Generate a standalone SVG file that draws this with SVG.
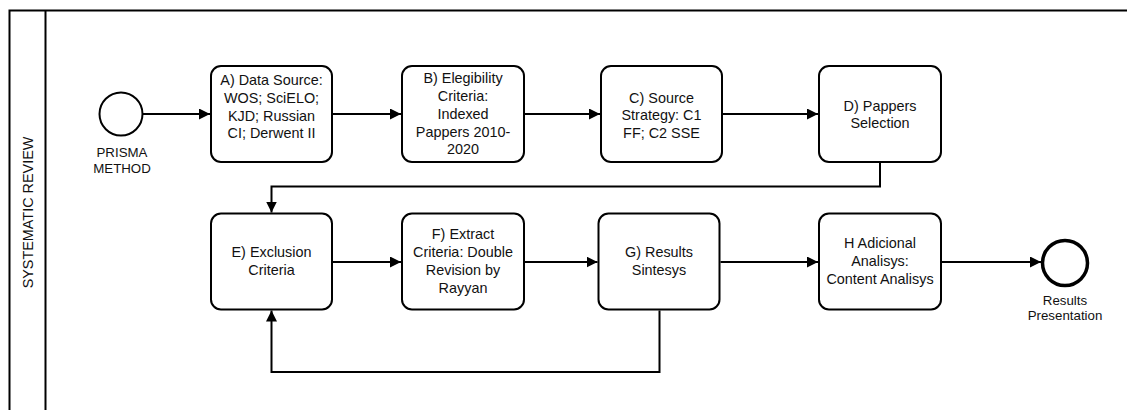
<svg xmlns="http://www.w3.org/2000/svg" width="1127" height="410" viewBox="0 0 1127 410">
  <defs>
    <style>
      .pool { fill: #ffffff; stroke: #000000; stroke-width: 2; }
      .task { fill: #ffffff; stroke: #000000; stroke-width: 2; }
      .t { font-family: "Liberation Sans", Arial, sans-serif; font-size: 14.4px; fill: #111111; text-anchor: middle; }
      .lbl { font-family: "Liberation Sans", Arial, sans-serif; font-size: 13.3px; fill: #111111; text-anchor: middle; }
      .conn { fill: none; stroke: #000000; stroke-width: 2; marker-end: url(#arrow); }
    </style>
    <marker id="arrow" markerUnits="userSpaceOnUse" markerWidth="11" markerHeight="11" refX="11" refY="5.5" orient="auto">
      <path d="M0,0 L11,5.5 L0,11 Z" fill="#000000"/>
    </marker>
  </defs>
  <rect width="1127" height="410" fill="#ffffff"/>

  <g id="pool">
    <rect class="pool" x="9.5" y="10.5" width="1130" height="420"/>
    <line x1="45.5" y1="10.5" x2="45.5" y2="412" stroke="#000000" stroke-width="2"/>
    <text class="t" transform="translate(33,212.5) rotate(-90)" x="0" y="0">SYSTEMATIC REVIEW</text>
  </g>

  <g id="connectors">
    <path class="conn" d="M143,114 L210,114"/>
    <path class="conn" d="M333,114 L401,114"/>
    <path class="conn" d="M525,114 L600,114"/>
    <path class="conn" d="M723,114 L818,114"/>
    <path class="conn" d="M880,163 L880,186.5 L271.5,186.5 L271.5,212.5"/>
    <path class="conn" d="M333,262 L401,262"/>
    <path class="conn" d="M525,262 L597.5,262"/>
    <path class="conn" d="M720.5,262 L818,262"/>
    <path class="conn" d="M942,262 L1041,262"/>
    <path class="conn" d="M659.5,310.5 L659.5,372 L271.5,372 L271.5,310.5"/>
  </g>

  <g id="start">
    <circle cx="121" cy="114" r="21.5" fill="#ffffff" stroke="#000000" stroke-width="2"/>
    <text class="lbl" x="122" y="156.5">PRISMA</text>
    <text class="lbl" x="122" y="173">METHOD</text>
  </g>

  <g id="taskA">
    <rect class="task" x="211" y="66" width="121" height="96" rx="10"/>
    <text class="t" x="271.5" y="85.3">A) Data Source:</text>
    <text class="t" x="271.5" y="103">WOS; SciELO;</text>
    <text class="t" x="271.5" y="120.7">KJD; Russian</text>
    <text class="t" x="271.5" y="138.4">CI; Derwent II</text>
  </g>

  <g id="taskB">
    <rect class="task" x="402" y="66" width="122" height="96" rx="10"/>
    <text class="t" x="463" y="83.3">B) Elegibility</text>
    <text class="t" x="463" y="101.3">Criteria:</text>
    <text class="t" x="463" y="119">Indexed</text>
    <text class="t" x="463" y="136.7">Pappers 2010-</text>
    <text class="t" x="463" y="154.3">2020</text>
  </g>

  <g id="taskC">
    <rect class="task" x="601" y="66" width="121" height="96" rx="10"/>
    <text class="t" x="661.5" y="102.7">C) Source</text>
    <text class="t" x="661.5" y="120.2">Strategy: C1</text>
    <text class="t" x="661.5" y="137.7">FF; C2 SSE</text>
  </g>

  <g id="taskD">
    <rect class="task" x="819" y="66" width="122" height="96" rx="10"/>
    <text class="t" x="880" y="110.7">D) Pappers</text>
    <text class="t" x="880" y="128.3">Selection</text>
  </g>

  <g id="taskE">
    <rect class="task" x="211" y="213.5" width="121" height="96" rx="10"/>
    <text class="t" x="271.5" y="256.7">E) Exclusion</text>
    <text class="t" x="271.5" y="275">Criteria</text>
  </g>

  <g id="taskF">
    <rect class="task" x="402" y="213.5" width="122" height="96" rx="10"/>
    <text class="t" x="463" y="239.3">F) Extract</text>
    <text class="t" x="463" y="257.3">Criteria: Double</text>
    <text class="t" x="463" y="275">Revision by</text>
    <text class="t" x="463" y="292.5">Rayyan</text>
  </g>

  <g id="taskG">
    <rect class="task" x="598.5" y="213.5" width="121" height="96" rx="10"/>
    <text class="t" x="659" y="256.7">G) Results</text>
    <text class="t" x="659" y="275">Sintesys</text>
  </g>

  <g id="taskH">
    <rect class="task" x="819" y="213.5" width="122" height="96" rx="10"/>
    <text class="t" x="880" y="248.3">H Adicional</text>
    <text class="t" x="880" y="266">Analisys:</text>
    <text class="t" x="880" y="283.5">Content Analisys</text>
  </g>

  <g id="end">
    <circle cx="1065" cy="263" r="22.5" fill="#ffffff" stroke="#000000" stroke-width="3.5"/>
    <text class="lbl" x="1065" y="304.8">Results</text>
    <text class="lbl" x="1065" y="319.8">Presentation</text>
  </g>
</svg>
